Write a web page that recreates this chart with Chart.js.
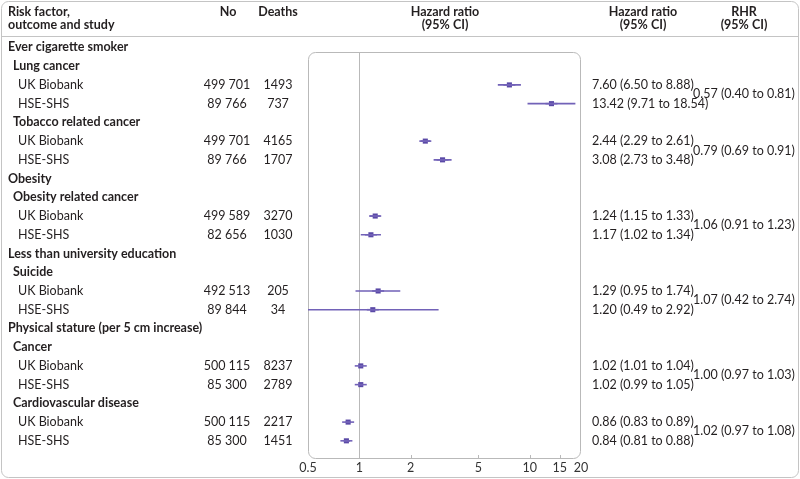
<!DOCTYPE html>
<html>
<head>
<meta charset="utf-8">
<script src="https://cdn.jsdelivr.net/npm/chart.js"></script>
<style>
  html, body { margin: 0; padding: 0; background: #fff; }
  #wrap { width: 800px; height: 479px; position: relative; }
</style>
</head>
<body>
<div id="wrap"><canvas id="forest" width="800" height="479"></canvas></div>
<script>
// rows of the table, top to bottom (0 = risk factor, 1 = outcome, 2 = study)
const rowLabels = ['Ever cigarette smoker', 'Lung cancer', 'UK Biobank', 'HSE-SHS',
  'Tobacco related cancer', 'UK Biobank', 'HSE-SHS',
  'Obesity', 'Obesity related cancer', 'UK Biobank', 'HSE-SHS',
  'Less than university education', 'Suicide', 'UK Biobank', 'HSE-SHS',
  'Physical stature (per 5 cm increase)', 'Cancer', 'UK Biobank', 'HSE-SHS',
  'Cardiovascular disease', 'UK Biobank', 'HSE-SHS'];
const rowLevels = [0, 1, 2, 2, 1, 2, 2, 0, 1, 2, 2, 0, 1, 2, 2, 0, 1, 2, 2, 1, 2, 2];
const noValues = ['', '', '499 701', '89 766', '', '499 701', '89 766',
  '', '', '499 589', '82 656', '', '', '492 513', '89 844',
  '', '', '500 115', '85 300', '', '500 115', '85 300'];
const deaths = ['', '', '1493', '737', '', '4165', '1707',
  '', '', '3270', '1030', '', '', '205', '34',
  '', '', '8237', '2789', '', '2217', '1451'];
const hr   = [null, null, 7.60, 13.42, null, 2.44, 3.08, null, null, 1.24, 1.17, null, null, 1.29, 1.20, null, null, 1.02, 1.02, null, 0.86, 0.84];
const hrLo = [null, null, 6.50, 9.71, null, 2.29, 2.73, null, null, 1.15, 1.02, null, null, 0.95, 0.49, null, null, 1.01, 0.99, null, 0.83, 0.81];
const hrHi = [null, null, 8.88, 18.54, null, 2.61, 3.48, null, null, 1.33, 1.34, null, null, 1.74, 2.92, null, null, 1.04, 1.05, null, 0.89, 0.88];

// ratio of hazard ratios, placed between the two study rows
const rhrRows = [2, 5, 9, 13, 17, 20];
const rhr   = [0.57, 0.79, 1.06, 1.07, 1.00, 1.02];
const rhrLo = [0.40, 0.69, 0.91, 0.42, 0.97, 0.97];
const rhrHi = [0.81, 0.91, 1.23, 2.74, 1.03, 1.08];

const xTicks = [0.5, 1, 2, 5, 10, 15, 20];

const FONT = 'Lato, "Noto Sans", sans-serif';
const TEXT = '#231f20';
const PURPLE_LINE = '#7262b8';
const PURPLE_MARK = '#5a49a6';

function fmt(v, l, h) {
  return v.toFixed(2) + ' (' + l.toFixed(2) + ' to ' + h.toFixed(2) + ')';
}

// CI segments, broken by null points
const ciData = [];
const pointData = [];
hr.forEach((v, i) => {
  if (v === null) return;
  ciData.push({x: hrLo[i], y: i}, {x: hrHi[i], y: i}, {x: null, y: null});
  pointData.push({x: v, y: i});
});

function roundRect(ctx, x, y, w, h, r) {
  ctx.beginPath();
  ctx.moveTo(x + r, y);
  ctx.lineTo(x + w - r, y);
  ctx.arcTo(x + w, y, x + w, y + r, r);
  ctx.lineTo(x + w, y + h - r);
  ctx.arcTo(x + w, y + h, x + w - r, y + h, r);
  ctx.lineTo(x + r, y + h);
  ctx.arcTo(x, y + h, x, y + h - r, r);
  ctx.lineTo(x, y + r);
  ctx.arcTo(x, y, x + r, y, r);
  ctx.closePath();
}

const framePlugin = {
  id: 'frame',
  beforeDatasetsDraw(chart) {
    const {ctx, chartArea: a, scales: {x}} = chart;
    ctx.save();
    ctx.strokeStyle = '#b9b9b9';
    ctx.lineWidth = 1;
    roundRect(ctx, a.left + 0.5, a.top + 0.5, a.right - a.left - 1, a.bottom - a.top - 1, 7);
    ctx.stroke();
    // line of no effect
    const x1 = Math.round(x.getPixelForValue(1)) + 0.5;
    ctx.beginPath();
    ctx.moveTo(x1, a.top);
    ctx.lineTo(x1, a.bottom);
    ctx.stroke();
    // small inward ticks
    [2, 5, 10, 15].forEach(t => {
      const px = Math.round(x.getPixelForValue(t)) + 0.5;
      ctx.beginPath();
      ctx.moveTo(px, a.bottom);
      ctx.lineTo(px, a.bottom - 4);
      ctx.stroke();
    });
    ctx.restore();
  },
  afterDraw(chart) {
    const {ctx, scales: {y}} = chart;
    ctx.save();
    // outer frame and header rule
    ctx.strokeStyle = '#c4c4c4';
    ctx.lineWidth = 1;
    roundRect(ctx, 1.5, 1.5, 797, 476, 7);
    ctx.stroke();
    ctx.beginPath();
    ctx.moveTo(2, 36.5);
    ctx.lineTo(798, 36.5);
    ctx.stroke();

    ctx.fillStyle = TEXT;
    ctx.textBaseline = 'middle';
    // header
    ctx.font = 'bold 12.5px ' + FONT;
    ctx.textAlign = 'left';
    ctx.fillText('Risk factor,', 8, 12);
    ctx.fillText('outcome and study', 8, 25);
    ctx.textAlign = 'center';
    ctx.fillText('No', 228, 12);
    ctx.fillText('Deaths', 278, 12);
    ctx.fillText('Hazard ratio', 445, 12);
    ctx.fillText('(95% CI)', 445, 25);
    ctx.fillText('Hazard ratio', 643, 12);
    ctx.fillText('(95% CI)', 643, 25);
    ctx.fillText('RHR', 744, 12);
    ctx.fillText('(95% CI)', 744, 25);

    // rows
    rowLabels.forEach((lab, i) => {
      const py = y.getPixelForValue(i);
      const lev = rowLevels[i];
      ctx.textAlign = 'left';
      ctx.font = (lev < 2 ? 'bold ' : '') + '12.5px ' + FONT;
      ctx.fillText(lab, 8 + lev * 5, py);
      if (lev === 2) {
        ctx.textAlign = 'center';
        ctx.fillText(noValues[i], 227, py);
        ctx.fillText(deaths[i], 278, py);
        ctx.textAlign = 'left';
        ctx.fillText(fmt(hr[i], hrLo[i], hrHi[i]), 592, py);
      }
    });
    ctx.font = '12.5px ' + FONT;
    ctx.textAlign = 'center';
    rhrRows.forEach((r, k) => {
      const py = (y.getPixelForValue(r) + y.getPixelForValue(r + 1)) / 2;
      ctx.fillText(fmt(rhr[k], rhrLo[k], rhrHi[k]), 744, py);
    });
    ctx.restore();
  }
};

new Chart(document.getElementById('forest'), {
  type: 'scatter',
  data: {
    datasets: [{
      data: ciData,
      showLine: true,
      spanGaps: false,
      borderColor: PURPLE_LINE,
      borderWidth: 1.6,
      pointRadius: 0
    }, {
      // short bar under each marker so narrow CIs stay visible
      data: pointData,
      pointStyle: 'line',
      pointRadius: 6,
      borderColor: PURPLE_LINE,
      borderWidth: 1.6
    }, {
      data: pointData,
      pointStyle: 'rect',
      pointRadius: 3.6,
      backgroundColor: PURPLE_MARK,
      borderColor: PURPLE_MARK,
      borderWidth: 0
    }]
  },
  options: {
    responsive: false,
    animation: false,
    layout: { padding: { left: 308, right: 219, top: 52, bottom: 3 } },
    plugins: { legend: { display: false }, tooltip: { enabled: false } },
    scales: {
      x: {
        type: 'logarithmic',
        min: 0.5,
        max: 20,
        afterBuildTicks(axis) { axis.ticks = xTicks.map(v => ({value: v})); },
        ticks: {
          autoSkip: false,
          maxRotation: 0,
          padding: 1,
          color: '#333',
          font: { family: FONT, size: 12.5 },
          callback: v => String(v)
        },
        grid: { display: false, drawTicks: false },
        border: { display: false }
      },
      y: {
        type: 'linear',
        display: false,
        reverse: true,
        min: 0.243,
        max: 21.97
      }
    }
  },
  plugins: [framePlugin]
});
</script>
</body>
</html>
